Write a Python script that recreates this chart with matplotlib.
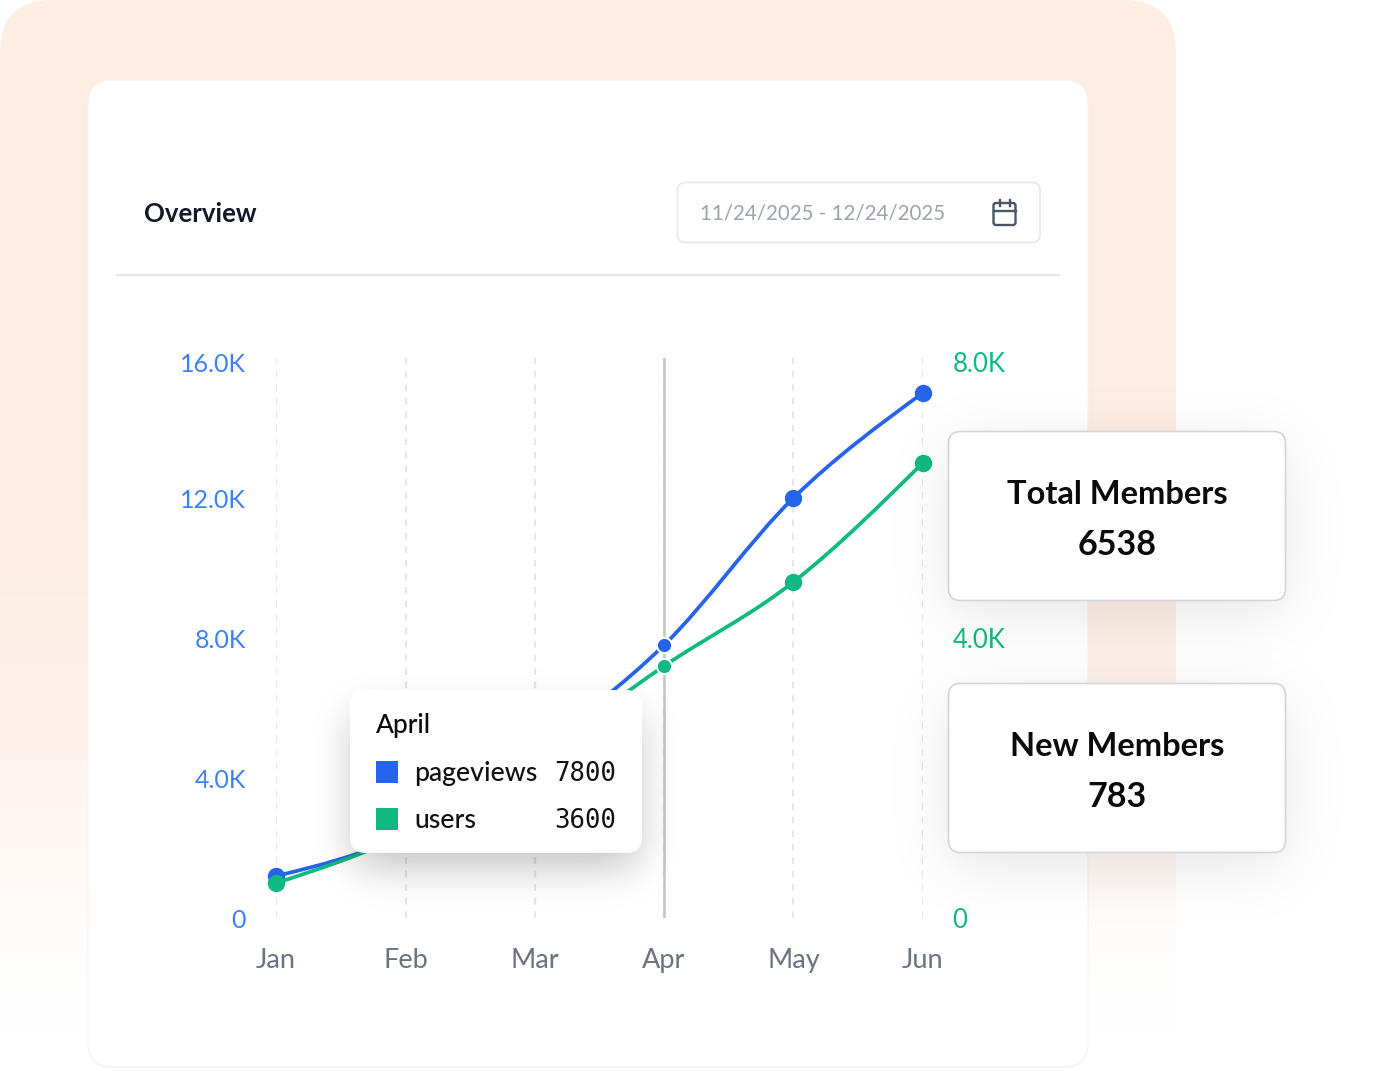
import math
import numpy as np
import matplotlib
matplotlib.use('Agg')
import matplotlib.pyplot as plt
from matplotlib.patches import FancyBboxPatch, PathPatch, Rectangle
from matplotlib.path import Path
from matplotlib.transforms import ScaledTranslation

plt.rcParams['font.family'] = ['Lato', 'DejaVu Sans']

months = ['Jan', 'Feb', 'Mar', 'Apr', 'May', 'Jun']
pageviews = [1200, 2400, 4800, 7800, 12000, 15000]
users = [500, 1200, 2300, 3600, 4800, 6500]
left_ticks = [0, 4000, 8000, 12000, 16000]
left_labels = ['0', '4.0K', '8.0K', '12.0K', '16.0K']
right_ticks = [0, 4000, 8000]
right_labels = ['0', '4.0K', '8.0K']
active_month = 3

W, H = 1376, 1071
BLUE = '#2563EB'
GREEN = '#10B981'


def monotone_path(xs, ys):
    # cubic segments with monotone tangents, same idea as d3 curveMonotoneX
    xs = np.asarray(xs, float)
    ys = np.asarray(ys, float)
    h = np.diff(xs)
    s = np.diff(ys) / h
    t = np.zeros(len(xs))
    for i in range(1, len(xs) - 1):
        if s[i - 1] * s[i] > 0:
            p = (s[i - 1] * h[i] + s[i] * h[i - 1]) / (h[i - 1] + h[i])
            t[i] = 2 * min(abs(s[i - 1]), abs(s[i]), 0.5 * abs(p)) * np.sign(p)
    t[0] = (3 * s[0] - t[1]) / 2
    t[-1] = (3 * s[-1] - t[-2]) / 2
    verts = [(xs[0], ys[0])]
    codes = [Path.MOVETO]
    for i in range(len(h)):
        d = h[i] / 3
        verts += [(xs[i] + d, ys[i] + t[i] * d),
                  (xs[i + 1] - d, ys[i + 1] - t[i + 1] * d),
                  (xs[i + 1], ys[i + 1])]
        codes += [Path.CURVE4] * 3
    return Path(verts, codes)


def rounded(ax, x, y, w, h, r, **kw):
    box = FancyBboxPatch((x + r, y + r), w - 2 * r, h - 2 * r,
                         boxstyle=f'round,pad={r},rounding_size={r}', **kw)
    ax.add_patch(box)
    return box


def shadow(ax, x, y, w, h, blur, color, alpha):
    # soft rectangle from erf edges, drawn as an RGBA image
    erf = np.vectorize(math.erf)
    px = np.arange(W) + 0.5
    py = np.arange(H) + 0.5
    sx = 0.5 * (erf((px - x) / blur) - erf((px - x - w) / blur))
    sy = 0.5 * (erf((py - y) / blur) - erf((py - y - h) / blur))
    img = np.zeros((H, W, 4))
    img[..., :3] = matplotlib.colors.to_rgb(color)
    img[..., 3] = alpha * np.outer(sy, sx)
    ax.imshow(img, extent=(0, W, H, 0), aspect='auto', interpolation='bilinear')


def pixel_axes(fig, zorder):
    ax = fig.add_axes([0, 0, 1, 1], zorder=zorder)
    ax.set_xlim(0, W)
    ax.set_ylim(H, 0)
    ax.axis('off')
    ax.patch.set_alpha(0)
    return ax


fig = plt.figure(figsize=(W / 100, H / 100), dpi=100, facecolor='white')

# backdrop: peach panel fading into white, white card on it
bg = pixel_axes(fig, 0)
panel = rounded(bg, 0, 0, 1176, 1300, 52, fc='none', ec='none')
fade_y = np.arange(H)
fade = np.interp(fade_y, [0, 500, 745, 900, 970, 1030], [1, 0.97, 0.68, 0.25, 0.06, 0])
grad = np.ones((H, 1, 3))
peach = np.array(matplotlib.colors.to_rgb('#FEEDE3'))
grad[:, 0, :] = 1 - (1 - peach) * fade[:, None]
im = bg.imshow(grad, extent=(0, 1176, H, 0), aspect='auto')
im.set_clip_path(panel)
bg.set_xlim(0, W)
bg.set_ylim(H, 0)
rounded(bg, 88, 80, 1000, 987, 24, fc='white', ec='#F6F4F2', lw=1)
bg.plot([116, 1060], [274.5, 274.5], color='#E5E7EB', lw=1.5, solid_capstyle='butt')

bg.text(144, 214, 'Overview', fontsize=18.5, fontweight='bold', color='#111827', va='center')
shadow(bg, 677, 184, 363, 60, 4, '#000000', 0.05)
rounded(bg, 677.5, 182.5, 362.5, 60, 8, fc='white', ec='#E5E7EB', lw=1.2)
bg.text(700, 213.5, '11/24/2025 - 12/24/2025', fontsize=14.8, color='#9CA3AF', va='center')
# calendar icon
rounded(bg, 993.5, 203, 22, 22, 2.5, fc='none', ec='#4B5563', lw=1.7)
bg.plot([993.5, 1015.5], [211, 211], color='#4B5563', lw=1.7)
bg.plot([999.5, 999.5], [199.5, 205.5], color='#4B5563', lw=1.7)
bg.plot([1009.5, 1009.5], [199.5, 205.5], color='#4B5563', lw=1.7)
bg.set_xlim(0, W)
bg.set_ylim(H, 0)

# chart axes span the first to last month and 0 to the top tick
ax = fig.add_axes([276.2 / W, 1 - 918 / H, 646.5 / W, 560 / H], zorder=1)
ax.patch.set_alpha(0)
ax.set_xlim(0, len(months) - 1)
ax.set_ylim(0, 16000)
xs = np.arange(len(months))
ax.set_xticks(xs, months)
ax.set_yticks(left_ticks, left_labels)
ax.grid(axis='x', color='#E5E7EB', lw=1.6, ls=(0, (3.04, 3.04)))
ax.grid(axis='y', visible=False)
ax.tick_params(axis='x', length=0, pad=21.7, labelsize=19.5, labelcolor='#6B7280')
ax.tick_params(axis='y', length=0, pad=21.6, labelsize=18, labelcolor='#3B82F6')
for side in ax.spines.values():
    side.set_visible(False)
ax.axvline(active_month, color='#C4C5C8', lw=1.8, zorder=2)

ax2 = ax.twinx()
ax2.set_zorder(2)
ax2.patch.set_alpha(0)
ax2.set_ylim(0, 8000)
ax2.set_yticks(right_ticks, right_labels)
ax2.tick_params(axis='y', length=0, pad=21.6, labelsize=18.5, labelcolor=GREEN)
for side in ax2.spines.values():
    side.set_visible(False)

# tick labels sit slightly below their ticks, the top pair a bit more
nudge = ScaledTranslation(0, -2.5 / 100, fig.dpi_scale_trans)
top_nudge = ScaledTranslation(0, -6 / 100, fig.dpi_scale_trans)
for labels in (ax.get_yticklabels(), ax2.get_yticklabels()):
    for lab in labels[:-1]:
        lab.set_verticalalignment('center')
        lab.set_transform(lab.get_transform() + nudge)
    labels[-1].set_verticalalignment('center')
    labels[-1].set_transform(labels[-1].get_transform() + top_nudge)

for axis, vals, col in [(ax, pageviews, BLUE), (ax2, users, GREEN)]:
    axis.add_patch(PathPatch(monotone_path(xs, vals), fc='none', ec=col, lw=2.7, zorder=3))
    rest = [i for i in xs if i != active_month]
    axis.plot(xs[rest], np.array(vals)[rest], ls='', marker='o', ms=11.5, color=col,
              clip_on=False, zorder=4)
    axis.plot(xs[active_month], vals[active_month], ls='', marker='o', ms=10.9, mfc=col,
              mec='white', mew=1.4, clip_on=False, zorder=5)

# floating tooltip and stat cards above the chart
top = pixel_axes(fig, 5)
for x, y in [(948, 431), (948, 683)]:
    shadow(top, x, y + 14, 337, 170, 46, '#000000', 0.10)
    rounded(top, x + 0.5, y + 0.5, 337, 169, 12, fc='white', ec='#D4D4D8', lw=1.2)
shadow(top, 355, 715, 282, 150, 30, '#000000', 0.26)
rounded(top, 350, 690, 292, 163, 16, fc='white', ec='none')
top.set_xlim(0, W)
top.set_ylim(H, 0)

card_text = '#0A0A0A'
top.text(1117, 495, 'Total Members', fontsize=23.5, fontweight='bold', color=card_text,
         ha='center', va='center')
top.text(1117, 545, '6538', fontsize=24.5, fontweight='bold', color=card_text,
         ha='center', va='center')
top.text(1117, 747, 'New Members', fontsize=23.5, fontweight='bold', color=card_text,
         ha='center', va='center')
top.text(1117, 797, '783', fontsize=24.5, fontweight='bold', color=card_text,
         ha='center', va='center')

top.text(376, 726, 'April', fontsize=19, fontweight='medium', color='#0A0A0A', va='center')
rows = [('pageviews', pageviews[active_month], BLUE, 772),
        ('users', users[active_month], GREEN, 819)]
for name, val, col, y in rows:
    top.add_patch(Rectangle((376, y - 11), 21.5, 21.5, fc=col, ec='none'))
    top.text(414, y + 2, name, fontsize=19.2, fontweight='medium', color='#111111', va='center')
    top.text(616, y + 2, str(val), fontsize=18.5, color='#111111', ha='right', va='center',
             family='DejaVu Sans Mono')

fig.savefig('out.png', dpi=100)
plt.close(fig)
